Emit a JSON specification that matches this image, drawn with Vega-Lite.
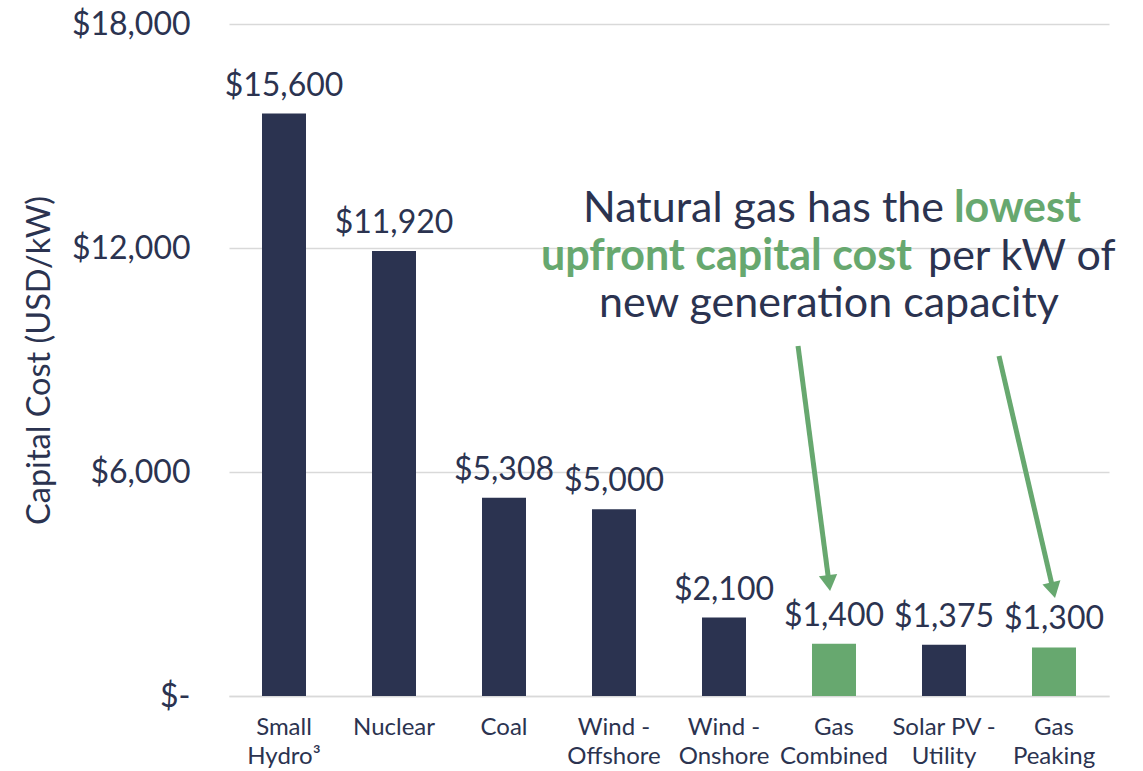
{
  "$schema": "https://vega.github.io/schema/vega-lite/v6.json",
  "width": 880,
  "height": 672,
  "autosize": {"type": "none"},
  "padding": {"left": 229, "top": 24, "right": 34, "bottom": 75},
  "background": "white",
  "config": {
    "view": {"stroke": null},
    "font": "Lato",
    "axisY": {
      "labelExpr": "datum.value == 0 ? '$-\u2002' : '$' + format(datum.value, ',')",
      "labelFontSize": 32, "labelColor": "#2B3350", "labelPadding": 39,
      "domain": false, "ticks": false, "grid": true,
      "gridColor": "#D9D9D9", "gridWidth": 1.5,
      "titleFontSize": 32.5, "titleFontWeight": "normal", "titleColor": "#2B3350", "titlePadding": 15
    }
  },
  "datasets": {
    "costs": [
      {"tech": "Small|Hydro³", "cost": 15600, "label": "$15,600", "group": "other"},
      {"tech": "Nuclear", "cost": 11920, "label": "$11,920", "group": "other"},
      {"tech": "Coal", "cost": 5308, "label": "$5,308", "group": "other"},
      {"tech": "Wind -|Offshore", "cost": 5000, "label": "$5,000", "group": "other"},
      {"tech": "Wind -|Onshore", "cost": 2100, "label": "$2,100", "group": "other"},
      {"tech": "Gas|Combined", "cost": 1400, "label": "$1,400", "group": "gas"},
      {"tech": "Solar PV -|Utility", "cost": 1375, "label": "$1,375", "group": "other"},
      {"tech": "Gas|Peaking", "cost": 1300, "label": "$1,300", "group": "gas"}
    ],
    "notes": [
      {"part": "dark-right", "text": "Natural gas has the", "px": 6.5, "py": 12696},
      {"part": "green-left", "text": "lowest", "px": 6.59, "py": 12696},
      {"part": "green-right", "text": "upfront capital cost", "px": 6.21, "py": 11411},
      {"part": "dark-left", "text": "per kW of", "px": 6.355, "py": 11411},
      {"part": "dark-center", "text": "new generation capacity", "px": 5.455, "py": 10152}
    ],
    "arrows": [
      {"arrow": "a", "x0": 5.173, "y0": 9375, "x1": 5.455, "y1": 3024},
      {"arrow": "b", "x0": 7.0, "y0": 9107, "x1": 7.493, "y1": 2834}
    ]
  },
  "layer": [
    {
      "layer": [
        {
          "data": {"name": "costs"},
          "mark": {"type": "bar"},
          "encoding": {
            "x": {
              "field": "tech", "type": "nominal", "sort": null,
              "scale": {"type": "band", "paddingInner": 0.6, "paddingOuter": 0.3},
              "axis": {
                "title": null, "labelAngle": 0, "labelExpr": "split(datum.label, '|')",
                "labelFontSize": 24, "labelColor": "#2B3350", "labelPadding": 19,
                "labelLineHeight": 29, "ticks": false, "grid": false,
                "domain": true, "domainColor": "#D9D9D9", "domainWidth": 1.5
              }
            },
            "y": {
              "field": "cost", "type": "quantitative",
              "scale": {"domain": [0, 18000], "nice": false},
              "axis": {"title": "Capital Cost (USD/kW)", "values": [0, 6000, 12000, 18000]}
            },
            "color": {
              "field": "group", "type": "nominal",
              "scale": {"domain": ["other", "gas"], "range": ["#2B3350", "#67A86F"]},
              "legend": null
            }
          }
        },
        {
          "data": {"name": "costs"},
          "mark": {"type": "text", "dy": -18, "fontSize": 32, "color": "#2B3350", "baseline": "alphabetic"},
          "encoding": {
            "x": {"field": "tech", "type": "nominal", "sort": null},
            "y": {"field": "cost", "type": "quantitative", "axis": {"title": "Capital Cost (USD/kW)", "values": [0, 6000, 12000, 18000]}},
            "text": {"field": "label"}
          }
        }
      ]
    },
    {
      "layer": [
        {
          "data": {"name": "notes"},
          "transform": [{"filter": "datum.part == 'dark-right'"}],
          "mark": {"type": "text", "align": "right", "baseline": "alphabetic", "fontSize": 43, "color": "#2B3350"},
          "encoding": {
            "x": {"field": "px", "type": "quantitative", "scale": {"domain": [0, 8], "nice": false, "zero": false}, "axis": null},
            "y": {"field": "py", "type": "quantitative", "axis": {"title": "Capital Cost (USD/kW)", "values": [0, 6000, 12000, 18000]}},
            "text": {"field": "text"}
          }
        },
        {
          "data": {"name": "notes"},
          "transform": [{"filter": "datum.part == 'green-left'"}],
          "mark": {"type": "text", "align": "left", "baseline": "alphabetic", "fontSize": 43, "fontWeight": "bold", "color": "#67A86F"},
          "encoding": {
            "x": {"field": "px", "type": "quantitative", "axis": null},
            "y": {"field": "py", "type": "quantitative", "axis": {"title": "Capital Cost (USD/kW)", "values": [0, 6000, 12000, 18000]}},
            "text": {"field": "text"}
          }
        },
        {
          "data": {"name": "notes"},
          "transform": [{"filter": "datum.part == 'green-right'"}],
          "mark": {"type": "text", "align": "right", "baseline": "alphabetic", "fontSize": 43, "fontWeight": "bold", "color": "#67A86F"},
          "encoding": {
            "x": {"field": "px", "type": "quantitative", "axis": null},
            "y": {"field": "py", "type": "quantitative", "axis": {"title": "Capital Cost (USD/kW)", "values": [0, 6000, 12000, 18000]}},
            "text": {"field": "text"}
          }
        },
        {
          "data": {"name": "notes"},
          "transform": [{"filter": "datum.part == 'dark-left'"}],
          "mark": {"type": "text", "align": "left", "baseline": "alphabetic", "fontSize": 43, "color": "#2B3350"},
          "encoding": {
            "x": {"field": "px", "type": "quantitative", "axis": null},
            "y": {"field": "py", "type": "quantitative", "axis": {"title": "Capital Cost (USD/kW)", "values": [0, 6000, 12000, 18000]}},
            "text": {"field": "text"}
          }
        },
        {
          "data": {"name": "notes"},
          "transform": [{"filter": "datum.part == 'dark-center'"}],
          "mark": {"type": "text", "align": "center", "baseline": "alphabetic", "fontSize": 43, "color": "#2B3350"},
          "encoding": {
            "x": {"field": "px", "type": "quantitative", "axis": null},
            "y": {"field": "py", "type": "quantitative", "axis": {"title": "Capital Cost (USD/kW)", "values": [0, 6000, 12000, 18000]}},
            "text": {"field": "text"}
          }
        },
        {
          "data": {"name": "arrows"},
          "mark": {"type": "rule", "strokeWidth": 5, "color": "#67A86F"},
          "encoding": {
            "x": {"field": "x0", "type": "quantitative", "axis": null},
            "y": {"field": "y0", "type": "quantitative", "axis": {"title": "Capital Cost (USD/kW)", "values": [0, 6000, 12000, 18000]}},
            "x2": {"field": "x1"},
            "y2": {"field": "y1"}
          }
        },
        {
          "data": {"name": "arrows"},
          "transform": [{"filter": "datum.arrow == 'a'"}],
          "mark": {"type": "point", "shape": "triangle-down", "filled": true, "size": 340, "angle": 352.6, "color": "#67A86F", "opacity": 1},
          "encoding": {
            "x": {"field": "x1", "type": "quantitative", "axis": null},
            "y": {"field": "y1", "type": "quantitative", "axis": {"title": "Capital Cost (USD/kW)", "values": [0, 6000, 12000, 18000]}}
          }
        },
        {
          "data": {"name": "arrows"},
          "transform": [{"filter": "datum.arrow == 'b'"}],
          "mark": {"type": "point", "shape": "triangle-down", "filled": true, "size": 340, "angle": 347, "color": "#67A86F", "opacity": 1},
          "encoding": {
            "x": {"field": "x1", "type": "quantitative", "axis": null},
            "y": {"field": "y1", "type": "quantitative", "axis": {"title": "Capital Cost (USD/kW)", "values": [0, 6000, 12000, 18000]}}
          }
        }
      ]
    }
  ],
  "resolve": {"scale": {"x": "independent"}}
}
